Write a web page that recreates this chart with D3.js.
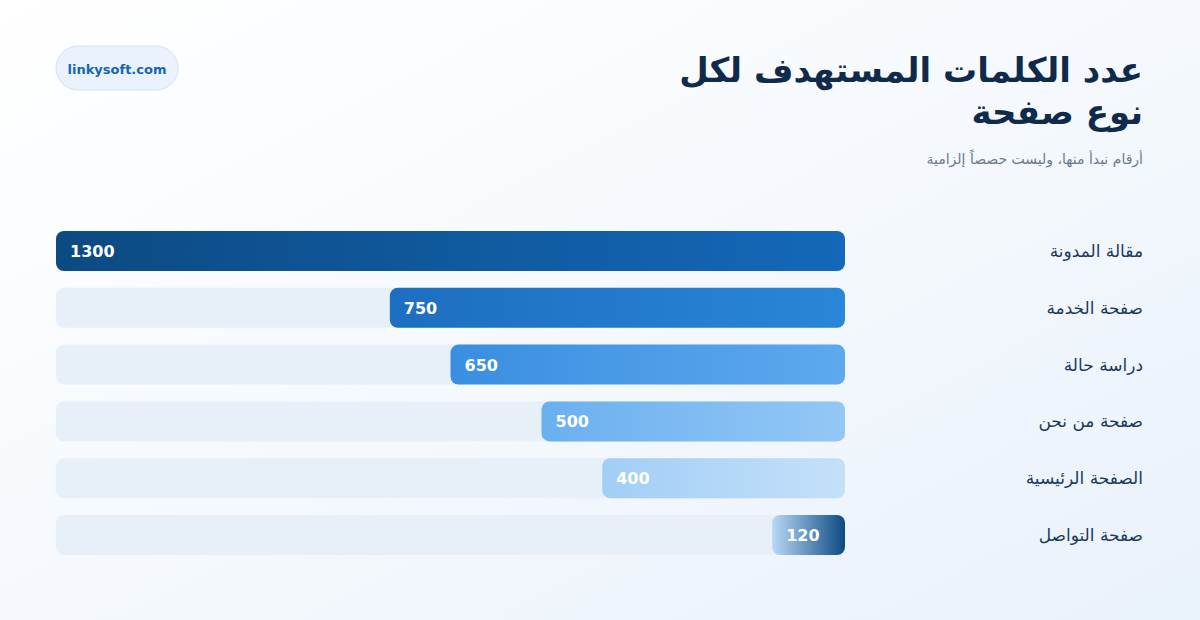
<!DOCTYPE html>
<html><head><meta charset="utf-8">
<script src="https://cdn.jsdelivr.net/npm/d3@7"></script>
<style>
  body { margin: 0; }
  svg { display: block; font-family: "DejaVu Sans", sans-serif; }
</style>
</head><body>
<script>
// Data
var categories = ['مقالة المدونة', 'صفحة الخدمة', 'دراسة حالة', 'صفحة من نحن', 'الصفحة الرئيسية', 'صفحة التواصل'];
var values = [1300, 750, 650, 500, 400, 120];
var gradStops = [
  ['#0c4a82', '#1468b9'],
  ['#1c6ec0', '#2a86d8'],
  ['#3a8ee0', '#5ea9ee'],
  ['#6ab0ef', '#94c7f5'],
  ['#a2cef6', '#c4e0f9'],
  ['#b9d9f6', '#0c4a82']
];

var WIDTH = 1200, HEIGHT = 620;
var LEFT = 56, RIGHT = 845, BAR_H = 38;

var svg = d3.select('body').append('svg')
  .attr('width', WIDTH).attr('height', HEIGHT);
var defs = svg.append('defs');

var bg = defs.append('linearGradient').attr('id', 'bg')
  .attr('x1', 0).attr('y1', 0).attr('x2', 1).attr('y2', 1);
bg.append('stop').attr('offset', 0).attr('stop-color', '#ffffff');
bg.append('stop').attr('offset', 0.5).attr('stop-color', '#f5f9fd');
bg.append('stop').attr('offset', 1).attr('stop-color', '#e9f1fb');
svg.append('rect').attr('width', WIDTH).attr('height', HEIGHT).attr('fill', 'url(#bg)');

gradStops.forEach(function (s, i) {
  var g = defs.append('linearGradient').attr('id', 'g' + i);
  g.append('stop').attr('offset', 0).attr('stop-color', s[0]);
  g.append('stop').attr('offset', 1).attr('stop-color', s[1]);
});

// pill
svg.append('rect').attr('x', 56).attr('y', 46).attr('width', 122).attr('height', 44).attr('rx', 22)
  .attr('fill', '#eaf3fd').attr('stroke', '#cfe2f7');
svg.append('text').attr('x', 117).attr('y', 74).attr('text-anchor', 'middle')
  .attr('font-size', 13).attr('font-weight', 'bold').attr('fill', '#1565b5').text('linkysoft.com');

// titles
var title = svg.append('text').attr('direction', 'rtl').attr('text-anchor', 'start')
  .attr('font-size', 34).attr('font-weight', 'bold').attr('fill', '#0f2a4a');
title.append('tspan').attr('x', 1143).attr('y', 82).text('عدد الكلمات المستهدف لكل');
title.append('tspan').attr('x', 1143).attr('y', 124).text('نوع صفحة');
svg.append('text').attr('direction', 'rtl').attr('x', 1143).attr('y', 164)
  .attr('font-size', 14).attr('fill', '#6b7a8c').text('أرقام نبدأ منها، وليست حصصاً إلزامية');

var x = d3.scaleLinear().domain([0, 1300]).range([0, RIGHT - LEFT]);
var y = d3.scaleBand().domain(categories).range([231, 231 + 54 * categories.length]).paddingInner(16 / 54).paddingOuter(0);

var rows = svg.selectAll('g.row').data(categories).enter().append('g').attr('class', 'row');

rows.append('rect').attr('x', LEFT).attr('y', function (d) { return y(d); })
  .attr('width', RIGHT - LEFT).attr('height', y.bandwidth()).attr('rx', 8).attr('fill', '#e7eff8');

rows.append('rect')
  .attr('x', function (d, i) { return RIGHT - x(values[i]); })
  .attr('y', function (d) { return y(d); })
  .attr('width', function (d, i) { return x(values[i]); })
  .attr('height', y.bandwidth()).attr('rx', 8)
  .attr('fill', function (d, i) { return 'url(#g' + i + ')'; });

rows.append('text')
  .attr('x', function (d, i) { return RIGHT - x(values[i]) + 14; })
  .attr('y', function (d) { return y(d) + y.bandwidth() / 2 + 6; })
  .attr('font-size', 16).attr('font-weight', 'bold').attr('fill', '#ffffff')
  .text(function (d, i) { return values[i]; });

rows.append('text').attr('direction', 'rtl')
  .attr('x', 1143).attr('y', function (d) { return y(d) + y.bandwidth() / 2 + 6; })
  .attr('font-size', 17).attr('fill', '#1a3a5c')
  .text(function (d) { return d; });
</script>
</body></html>
